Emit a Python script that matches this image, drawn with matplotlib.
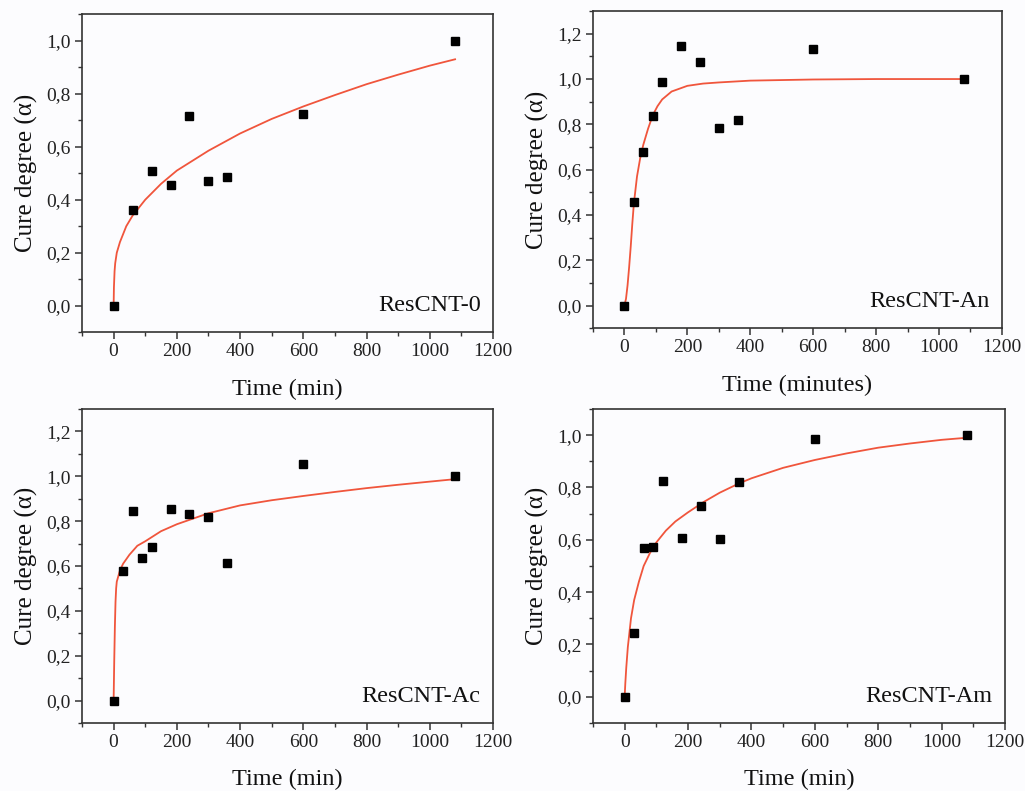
import matplotlib
matplotlib.use("Agg")
import matplotlib.pyplot as plt
from matplotlib.ticker import FuncFormatter, MultipleLocator

plt.rcParams["font.family"] = ["Liberation Serif", "DejaVu Serif"]

# measured cure degree
t_0 = [0, 60, 120, 180, 240, 300, 360, 600, 1080]
a_0 = [0.0, 0.36, 0.507, 0.455, 0.717, 0.472, 0.487, 0.722, 1.0]

t_an = [0, 30, 60, 90, 120, 180, 240, 300, 360, 600, 1080]
a_an = [0.0, 0.456, 0.679, 0.838, 0.985, 1.144, 1.076, 0.782, 0.819, 1.132, 1.0]

t_ac = [0, 30, 60, 90, 120, 180, 240, 300, 360, 600, 1080]
a_ac = [0.0, 0.579, 0.843, 0.635, 0.684, 0.852, 0.831, 0.820, 0.614, 1.055, 1.0]

t_am = [0, 30, 60, 90, 120, 180, 240, 300, 360, 600, 1080]
a_am = [0.0, 0.243, 0.569, 0.573, 0.824, 0.606, 0.729, 0.603, 0.821, 0.987, 1.0]

# fitted curves
fit_t_0 = [0, 1, 3, 5, 10, 20, 40, 60, 100, 150, 200, 300, 400, 500, 600, 700, 800, 900, 1000, 1080]
fit_a_0 = [0.0, 0.07, 0.13, 0.16, 0.2, 0.24, 0.30, 0.34, 0.40, 0.46, 0.51, 0.585, 0.65, 0.705,
           0.752, 0.795, 0.836, 0.872, 0.906, 0.93]

fit_t_an = [0, 5, 10, 15, 20, 25, 30, 40, 50, 60, 75, 90, 105, 120, 150, 200, 250, 300, 400, 600,
            800, 1080]
fit_a_an = [0.0, 0.03, 0.09, 0.17, 0.26, 0.36, 0.45, 0.57, 0.65, 0.71, 0.78, 0.84, 0.88, 0.91,
            0.945, 0.97, 0.98, 0.985, 0.993, 0.998, 1.0, 1.0]

fit_t_ac = [0, 2, 4, 6, 8, 10, 20, 30, 50, 75, 100, 150, 200, 300, 400, 500, 600, 700, 800, 900,
            1000, 1080]
fit_a_ac = [0.0, 0.18, 0.33, 0.44, 0.50, 0.53, 0.58, 0.61, 0.65, 0.69, 0.71, 0.755, 0.786, 0.835,
            0.87, 0.893, 0.912, 0.93, 0.947, 0.962, 0.976, 0.987]

fit_t_am = [0, 2, 5, 10, 20, 30, 45, 60, 80, 100, 130, 160, 200, 250, 300, 360, 400, 500, 600, 700,
            800, 900, 1000, 1080]
fit_a_am = [0.0, 0.05, 0.11, 0.19, 0.30, 0.37, 0.44, 0.50, 0.55, 0.59, 0.635, 0.67, 0.705, 0.745,
            0.78, 0.815, 0.835, 0.875, 0.905, 0.93, 0.952, 0.968, 0.982, 0.99]

panels = [
    ("ResCNT-0", "Time (min)", t_0, a_0, fit_t_0, fit_a_0, 1.1, [0.080, 0.580, 0.401, 0.402]),
    ("ResCNT-An", "Time (minutes)", t_an, a_an, fit_t_an, fit_a_an, 1.3, [0.5785, 0.585, 0.399, 0.401]),
    ("ResCNT-Ac", "Time (min)", t_ac, a_ac, fit_t_ac, fit_a_ac, 1.3, [0.080, 0.086, 0.401, 0.397]),
    ("ResCNT-Am", "Time (min)", t_am, a_am, fit_t_am, fit_a_am, 1.1, [0.5785, 0.086, 0.402, 0.397]),
]

fig = plt.figure(figsize=(10.25, 7.91), dpi=100, facecolor="#fcfcfe")
comma = FuncFormatter(lambda v, pos: f"{v:.1f}".replace(".", ","))

for name, xlab, t, a, ft, fa, ytop, rect in panels:
    ax = fig.add_axes(rect)
    ax.set_facecolor("#fcfcfe")
    ax.plot(ft, fa, color="#f0553c", lw=1.3, zorder=2)
    ax.plot(t, a, "s", color="black", ms=5.2, zorder=3)

    ax.set_xlim(-100, 1200)
    ax.xaxis.set_major_locator(MultipleLocator(200))
    ax.xaxis.set_minor_locator(MultipleLocator(100))
    ax.yaxis.set_major_locator(MultipleLocator(0.2))
    ax.yaxis.set_minor_locator(MultipleLocator(0.1))
    ax.yaxis.set_major_formatter(comma)
    ax.set_ylim(-0.1, ytop)

    for s in ax.spines.values():
        s.set_color("#333333")
        s.set_linewidth(1.2)
    ax.tick_params(which="major", direction="out", length=5, width=1.1, color="#333333",
                   labelsize=14, labelcolor="#222222", pad=3)
    ax.tick_params(which="minor", direction="out", length=3, width=1.0, color="#333333")

    ax.set_xlabel(xlab, fontsize=17.5, labelpad=13, color="#111111")
    ax.set_ylabel("Cure degree (α)", fontsize=18, labelpad=6, color="#111111")
    ax.text(0.97, 0.05, name, transform=ax.transAxes, ha="right", va="bottom",
            fontsize=17.5, color="#111111")

fig.savefig("out.png", dpi=100, facecolor=fig.get_facecolor())
